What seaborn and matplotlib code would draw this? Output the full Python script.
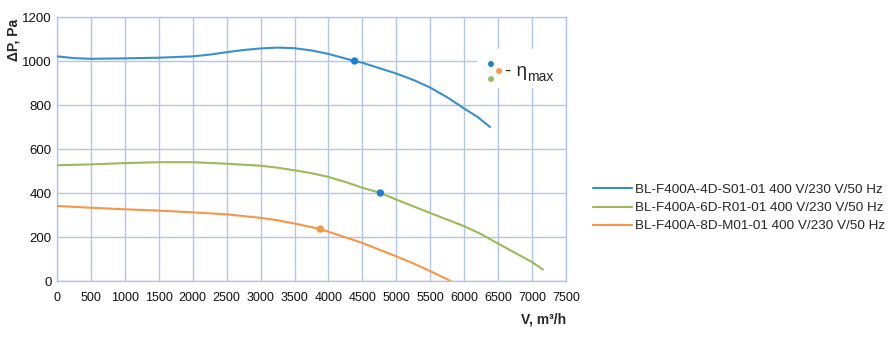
import matplotlib
matplotlib.use("Agg")
import matplotlib.pyplot as plt
import seaborn as sns
import pandas as pd
from matplotlib.patches import Rectangle
from matplotlib.lines import Line2D

# ---- data ----
series_names = ["BL-F400A-4D-S01-01 400 V/230 V/50 Hz",
                "BL-F400A-6D-R01-01 400 V/230 V/50 Hz",
                "BL-F400A-8D-M01-01 400 V/230 V/50 Hz"]
blue_x = [0, 250, 500, 1000, 1500, 2000, 2250, 2500, 2750, 3000, 3250, 3500, 3750, 4000, 4385, 4500, 5000, 5250, 5500, 5750, 6000, 6200, 6380]
blue_y = [1021, 1013, 1010, 1012, 1015, 1021, 1029, 1040, 1050, 1057, 1061, 1058, 1048, 1032, 1000, 992, 943, 914, 879, 835, 784, 745, 700]
green_x = [0, 500, 1000, 1500, 2000, 2500, 3000, 3250, 3500, 3750, 4000, 4250, 4500, 4765, 5000, 5500, 6000, 6250, 6500, 6750, 7000, 7160]
green_y = [526, 530, 536, 540, 540, 533, 524, 515, 503, 490, 473, 450, 424, 400, 370, 309, 249, 213, 170, 128, 86, 52]
orange_x = [0, 500, 1000, 1500, 2000, 2500, 3000, 3250, 3500, 3750, 3880, 4000, 4500, 5000, 5250, 5500, 5800]
orange_y = [341, 333, 326, 320, 312, 303, 287, 276, 261, 245, 236, 224, 173, 112, 80, 45, 0]
eta_x = [4385, 4765, 3880]
eta_y = [1000, 400, 236]
x_ticks = list(range(0, 7501, 500))
y_ticks = list(range(0, 1201, 200))

colors = ["#3a8fcc", "#9bbb59", "#f79646"]
dot_colors = ["#1a7fd0", "#1a7fd0", "#f79646"]
grid_c = "#b3c6e7"

df = pd.concat([
    pd.DataFrame({"V": blue_x, "P": blue_y, "s": series_names[0]}),
    pd.DataFrame({"V": green_x, "P": green_y, "s": series_names[1]}),
    pd.DataFrame({"V": orange_x, "P": orange_y, "s": series_names[2]}),
])
df_eta = pd.DataFrame({"V": eta_x, "P": eta_y, "s": series_names})

sns.set_style("whitegrid", {"grid.color": grid_c, "axes.edgecolor": grid_c})
plt.rcParams["font.family"] = ["Liberation Sans", "DejaVu Sans"]

fig = plt.figure(figsize=(8.94, 3.37), dpi=100)
ax = fig.add_axes([57/894, 1-281/337, (566-57)/894, (281-17)/337])

sns.lineplot(data=df, x="V", y="P", hue="s", palette=colors, sort=False,
             linewidth=1.5, ax=ax, legend=False, zorder=3)
sns.scatterplot(data=df_eta, x="V", y="P", hue="s", palette=dot_colors,
                s=28, linewidth=0, ax=ax, legend=False, zorder=4)

ax.set_xlim(0, 7500)
ax.set_ylim(0, 1200)
ax.set_xticks(x_ticks)
ax.set_yticks(y_ticks)
ax.grid(True, color=grid_c, linewidth=1.0)
for sp in ax.spines.values():
    sp.set_color(grid_c)
    sp.set_linewidth(1.0)
ax.tick_params(axis="x", length=3, color=grid_c, labelsize=9, pad=5, labelcolor="#111111")
ax.tick_params(axis="y", length=0, labelsize=9.5, pad=4, labelcolor="#111111")
for lab in ax.get_xticklabels():
    lab.set_fontstretch("condensed")

ax.set_xlabel("")
ax.set_ylabel("")
fig.text(566/894, 1-319/337, "V, m³/h", ha="right", va="center", fontsize=10, fontweight="bold")
fig.text(13/894, 1-40/337, "ΔP, Pa", ha="center", va="center", rotation=90, fontsize=10, fontweight="bold")

# eta_max annotation box
ax.add_patch(Rectangle((0.825, 0.73), 0.175, 0.15, transform=ax.transAxes,
                       facecolor="white", edgecolor="none", zorder=2.5))
fx = lambda px: (px - 57) / (566 - 57)
fy = lambda py: (281 - py) / (281 - 17)
ax.scatter([fx(491), fx(499), fx(491)], [fy(64), fy(71), fy(79)], s=18,
           c=["#1a7fd0", "#f79646", "#9bbb59"], linewidths=0, transform=ax.transAxes, zorder=5, clip_on=False)
ax.text(fx(505), fy(72), "- η", transform=ax.transAxes, fontsize=13.5, va="center", ha="left", zorder=5)
ax.text(fx(527), fy(77), "max", transform=ax.transAxes, fontsize=10, va="center", ha="left", zorder=5)

handles = [Line2D([0], [0], color=c, linewidth=1.5) for c in colors]
fig.legend(handles, series_names, loc="center left", bbox_to_anchor=(588/894, 1-208/337),
           frameon=False, fontsize=9.7, handlelength=2.9, handletextpad=0.2, labelspacing=0.42,
           borderaxespad=0)

fig.savefig("out.png", dpi=100)
